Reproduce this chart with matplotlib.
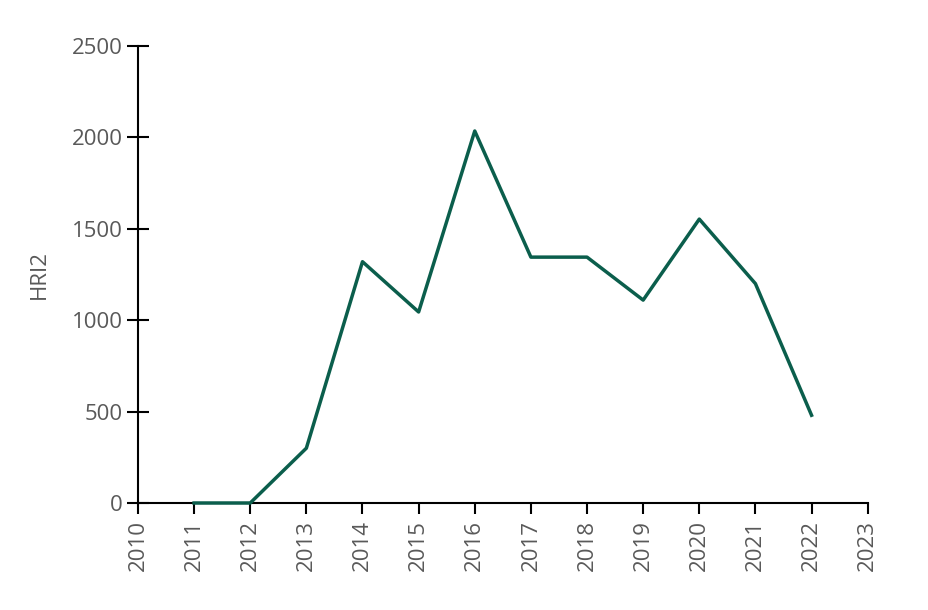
import matplotlib.pyplot as plt

# Data
years = [2011, 2012, 2013, 2014, 2015, 2016, 2017, 2018, 2019, 2020, 2021, 2022]
hri2 = [0, 0, 300, 1320, 1045, 2035, 1345, 1345, 1110, 1553, 1200, 480]
xticks = list(range(2010, 2024))
yticks = [0, 500, 1000, 1500, 2000, 2500]

plt.rcParams['font.family'] = ['Open Sans', 'DejaVu Sans']

fig = plt.figure(figsize=(9.29, 6.10), dpi=100)
ax = fig.add_axes([0.1485, 0.1754, 0.7855, 0.7492])

ax.plot(years, hri2, color='#0B5E4C', linewidth=2.5, zorder=5, clip_on=False)

ax.set_xlim(2010, 2023)
ax.set_ylim(0, 2500)
ax.set_xticks(xticks)
ax.set_xticklabels([str(y) for y in xticks], rotation=90)
ax.set_yticks(yticks)

for s in ['top', 'right']:
    ax.spines[s].set_visible(False)
for s in ['left', 'bottom']:
    ax.spines[s].set_linewidth(1.5)
    ax.spines[s].set_color('black')

ax.tick_params(axis='y', direction='inout', length=16, width=1.5,
               labelsize=16, labelcolor='#595959', pad=3)
ax.tick_params(axis='x', direction='out', length=8, width=1.5,
               labelsize=16, labelcolor='#595959', pad=4)

ax.set_ylabel('HRI2', fontsize=16, color='#595959', labelpad=16)

fig.savefig('out.png', dpi=100)
